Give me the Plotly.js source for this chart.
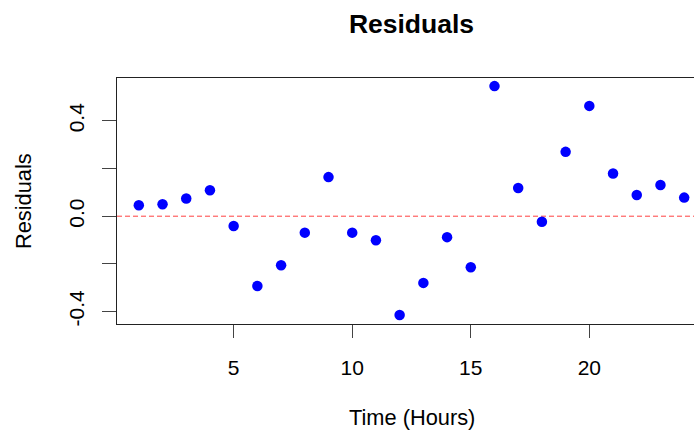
<!DOCTYPE html>
<html>
<head>
<meta charset="utf-8">
<script src="https://cdn.plot.ly/plotly-3.0.1.min.js"></script>
<style>
html,body{margin:0;padding:0;overflow:hidden;background:#fff;width:694px;height:430px;}
#chart{width:716px;height:430px;}
</style>
</head>
<body>
<div id="chart"></div>
<script>
const hours = [1,2,3,4,5,6,7,8,9,10,11,12,13,14,15,16,17,18,19,20,21,22,23,24];
const residuals = [0.046,0.050,0.074,0.109,-0.041,-0.293,-0.206,-0.069,0.164,-0.069,-0.101,-0.415,
                   -0.280,-0.088,-0.214,0.546,0.118,-0.023,0.270,0.463,0.179,0.089,0.131,0.078];
const xTickVals = [5,10,15,20];
const xTickText = ["5","10","15","20"];
const yTickVals = [-0.4,-0.2,0,0.2,0.4];
const yTickText = ["-0.4","","0.0","","0.4"];
const refLineY = 0;

const font = "Liberation Sans, Arial, sans-serif";

const traces = [
  {
    x: [0.08, 24.92], y: [refLineY, refLineY], mode: 'lines', type: 'scatter',
    line: {color: '#ff4040', width: 1, dash: '5px,3px'}, hoverinfo: 'skip', showlegend: false
  },
  {
    x: hours, y: residuals, mode: 'markers', type: 'scatter',
    marker: {color: '#0000ff', size: 10.5}, showlegend: false
  }
];

const layout = {
  width: 716, height: 430,
  margin: {l: 117, r: 10, t: 78, b: 106, pad: 0},
  paper_bgcolor: '#fff', plot_bgcolor: '#fff',
  font: {family: font, size: 21, color: '#000'},
  title: {text: '<b>Residuals</b>', font: {family: font, size: 26.5, color: '#000'},
          x: 0.5, xref: 'paper', y: 0.944, yref: 'container', xanchor: 'center', yanchor: 'middle'},
  xaxis: {
    range: [0.08, 24.92], showgrid: false, zeroline: false,
    showline: true, mirror: true, linecolor: '#222', linewidth: 1,
    ticks: 'outside', ticklen: 13, tickcolor: '#444', tickwidth: 1,
    tickvals: xTickVals, ticktext: xTickText, ticklabelstandoff: 12,
    tickfont: {family: font, size: 21, color: '#000'}
  },
  yaxis: {
    range: [-0.4525, 0.580], showgrid: false, zeroline: false,
    showline: true, mirror: true, linecolor: '#222', linewidth: 1,
    ticks: 'outside', ticklen: 14, tickcolor: '#444', tickwidth: 1,
    tickvals: yTickVals, ticktext: yTickText, tickangle: -90, ticklabelstandoff: 10,
    tickfont: {family: font, size: 21, color: '#000'}
  },
  annotations: [
    {text: 'Time (Hours)', xref: 'paper', yref: 'paper', x: 0.5, y: -0.382,
     xanchor: 'center', yanchor: 'middle', showarrow: false, font: {family: font, size: 21.8, color: '#000'}},
    {text: 'Residuals', xref: 'paper', yref: 'paper', x: -0.1596, y: 0.5, textangle: -90,
     xanchor: 'center', yanchor: 'middle', showarrow: false, font: {family: font, size: 21.8, color: '#000'}}
  ]
};

Plotly.newPlot('chart', traces, layout, {displayModeBar: false, staticPlot: true});
</script>
</body>
</html>
